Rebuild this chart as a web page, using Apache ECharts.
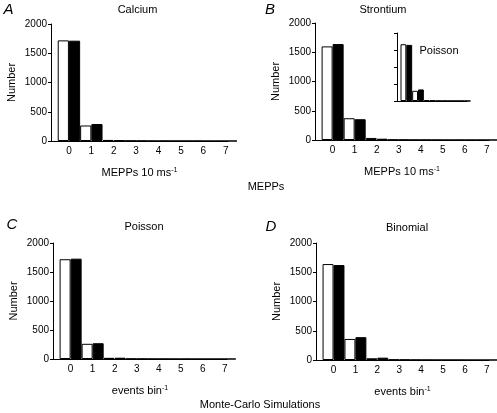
<!DOCTYPE html>
<html><head><meta charset="utf-8">
<script src="https://cdn.jsdelivr.net/npm/echarts@6/dist/echarts.min.js"></script>
<style>html,body{margin:0;padding:0;background:#fff}#c{width:497px;height:413px}</style>
</head><body><div id="c"></div>
<script>
// ---- data ----
const categories = [0, 1, 2, 3, 4, 5, 6, 7];
const insetCategories = [0, 1, 2, 3, 4, 5];
const yTickValues = [0, 500, 1000, 1500, 2000];

const calciumWhite = [1720, 265, 18, 5, 2, 1, 1, 0];
const calciumBlack = [1715, 290, 14, 4, 2, 1, 0, 0];

const strontiumWhite = [1600, 372, 35, 6, 3, 2, 1, 1];
const strontiumBlack = [1640, 355, 22, 5, 3, 1, 1, 0];

const insetWhite = [1670, 300, 25, 6, 2, 1];
const insetBlack = [1650, 340, 15, 4, 2, 1];

const poissonWhite = [1720, 262, 20, 5, 2, 1, 0, 0];
const poissonBlack = [1730, 272, 22, 4, 2, 1, 0, 0];

const binomialWhite = [1640, 360, 30, 8, 3, 1, 1, 0];
const binomialBlack = [1623, 390, 40, 6, 2, 1, 0, 0];

// ---- chart ----
const FONT = '"Liberation Sans", Arial, Helvetica, sans-serif';
const yMax = yTickValues[yTickValues.length - 1];
const yInterval = yTickValues[1] - yTickValues[0];

const panels = [
  {grid: {left: 51, top: 24, width: 177, height: 117}, cats: categories, white: calciumWhite, black: calciumBlack, xmax: 7.1, xname: '{a|MEPPs 10 ms}{s|-1}', labels: true},
  {grid: {left: 315, top: 23, width: 174, height: 117}, cats: categories, white: strontiumWhite, black: strontiumBlack, xmax: 7.1, xname: '{a|MEPPs 10 ms}{s|-1}', labels: true},
  {grid: {left: 397, top: 33, width: 70, height: 68}, cats: insetCategories, white: insetWhite, black: insetBlack, xmax: 5.2, xname: '', labels: false},
  {grid: {left: 53, top: 243, width: 174, height: 116}, cats: categories, white: poissonWhite, black: poissonBlack, xmax: 7.1, xname: '{a|events bin}{s|-1}', labels: true},
  {grid: {left: 316, top: 243, width: 173, height: 117}, cats: categories, white: binomialWhite, black: binomialBlack, xmax: 7.1, xname: '{a|events bin}{s|-1}', labels: true}
];

const grids = [], xAxes = [], yAxes = [], series = [];
panels.forEach((p, i) => {
  grids.push(Object.assign({containLabel: false}, p.grid));
  xAxes.push({
    type: 'value', gridIndex: i, min: -0.8, max: p.xmax, minInterval: 1, maxInterval: 1,
    axisLine: {show: true, onZero: false, lineStyle: {color: '#000', width: 1}},
    axisTick: {show: false}, splitLine: {show: false},
    axisLabel: {show: p.labels, color: '#000', fontSize: 10, fontFamily: FONT, margin: 5,
      formatter: v => Number.isInteger(v) ? String(v) : ''},
    name: p.xname, nameLocation: 'middle', nameGap: 26,
    nameTextStyle: {color: '#000', fontFamily: FONT, fontSize: 11,
      rich: {a: {fontSize: 11, color: '#000', fontFamily: FONT},
             s: {fontSize: 7, color: '#000', fontFamily: FONT, verticalAlign: 'top'}}}
  });
  yAxes.push({
    type: 'value', gridIndex: i, min: 0, max: yMax, interval: yInterval,
    axisLine: {show: true, onZero: false, lineStyle: {color: '#000', width: 1}},
    axisTick: {show: true, length: 3, lineStyle: {color: '#000'}},
    splitLine: {show: false},
    axisLabel: {show: p.labels, color: '#000', fontSize: 10, fontFamily: FONT, margin: 4,
      formatter: v => String(v)},
    name: p.labels ? 'Number' : '', nameLocation: 'middle', nameGap: 34,
    nameTextStyle: {color: '#000', fontFamily: FONT, fontSize: 11}
  });
  series.push({
    type: 'bar', xAxisIndex: i, yAxisIndex: i,
    data: p.cats.map((c, k) => [c, p.white[k]]),
    barGap: '0%', barCategoryGap: '0%',
    itemStyle: {color: '#fff', borderColor: '#000', borderWidth: 1},
    silent: true
  });
  series.push({
    type: 'bar', xAxisIndex: i, yAxisIndex: i,
    data: p.cats.map((c, k) => [c, p.black[k]]),
    barGap: '0%', barCategoryGap: '0%',
    itemStyle: {color: '#000', borderColor: '#000', borderWidth: 1},
    silent: true
  });
});

function txt(text, x, y, size, italic) {
  return {type: 'text', x: x, y: y, silent: true,
    style: {text: text, fill: '#000',
      font: (italic ? 'italic ' : '') + size + 'px ' + FONT,
      textAlign: 'center', textVerticalAlign: 'middle', align: 'center', verticalAlign: 'middle'}};
}

const graphics = [
  txt('A', 8.5, 9.5, 15, true),
  txt('Calcium', 137.5, 10, 11),
  txt('B', 270, 10, 15, true),
  txt('Strontium', 383, 10, 11),
  txt('Poisson', 439, 51, 11),
  txt('MEPPs', 266, 187, 11),
  txt('C', 12, 225, 15, true),
  txt('Poisson', 144, 227, 11),
  txt('D', 271, 227, 15, true),
  txt('Binomial', 407, 228, 11),
  txt('Monte-Carlo Simulations', 260, 405, 11)
];

const chart = echarts.init(document.getElementById('c'), null, {renderer: 'canvas'});
chart.setOption({
  animation: false,
  backgroundColor: '#fff',
  grid: grids, xAxis: xAxes, yAxis: yAxes, series: series,
  graphic: graphics
});
</script></body></html>
